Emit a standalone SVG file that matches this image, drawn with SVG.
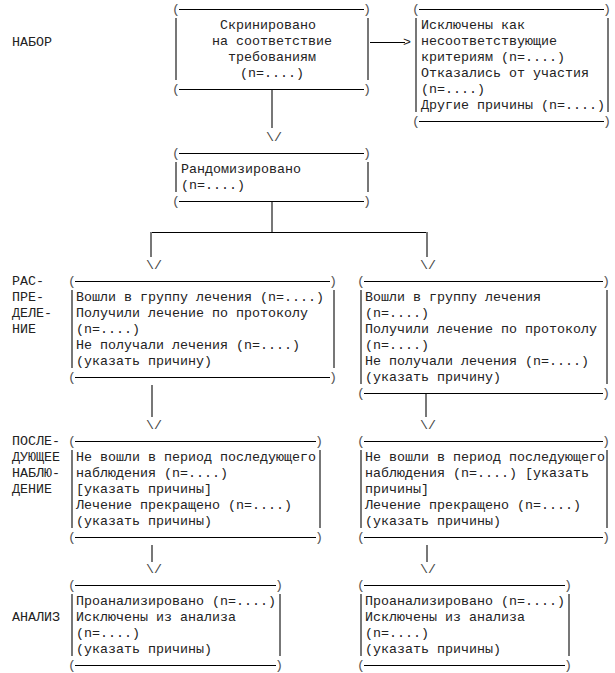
<svg xmlns="http://www.w3.org/2000/svg" width="615" height="673" viewBox="0 0 615 673">
<style>
text{font-family:"Liberation Mono","Courier New",monospace;font-size:13.33px;fill:#222}
.p{text-anchor:middle;fill:#555}
.c{text-anchor:middle;fill:#444}
.h{stroke:#000;stroke-width:1}
.v{stroke:#777;stroke-width:2}
</style>
<rect width="615" height="673" fill="#fff"/>
<g id="labels">
<text x="12" y="46">НАБОР</text>
<text x="12" y="285">РАС-</text>
<text x="12" y="301">ПРЕ-</text>
<text x="12" y="317">ДЕЛЕ-</text>
<text x="12" y="333">НИЕ</text>
<text x="12" y="445">ПОСЛЕ-</text>
<text x="12" y="461">ДУЮЩЕЕ</text>
<text x="12" y="477">НАБЛЮ-</text>
<text x="12" y="493">ДЕНИЕ</text>
<text x="12" y="621">АНАЛИЗ</text>
</g>
<g id="screened">
<text class="p" x="176" y="13">(</text><line class="h" x1="179" y1="9.5" x2="364" y2="9.5"/><text class="p" x="367" y="13">)</text>
<line class="v" x1="176" y1="18" x2="176" y2="80"/><line class="v" x1="368" y1="18" x2="368" y2="80"/>
<text class="p" x="176" y="93">(</text><line class="h" x1="179" y1="89.5" x2="364" y2="89.5"/><text class="p" x="367" y="93">)</text>
<text x="220" y="29">Скринировано</text>
<text x="212" y="45">на соответствие</text>
<text x="228" y="61">требованиям</text>
<text x="240" y="77">(n=....)</text>
</g>
<g id="excluded">
<text class="p" x="416" y="13">(</text><line class="h" x1="419" y1="9.5" x2="604" y2="9.5"/><text class="p" x="607" y="13">)</text>
<line class="v" x1="416" y1="18" x2="416" y2="112"/><line class="v" x1="608" y1="18" x2="608" y2="112"/>
<text class="p" x="416" y="125">(</text><line class="h" x1="419" y1="121.5" x2="604" y2="121.5"/><text class="p" x="607" y="125">)</text>
<text x="421" y="29">Исключены как</text>
<text x="421" y="45">несоответствующие</text>
<text x="421" y="61">критериям (n=....)</text>
<text x="421" y="77">Отказались от участия</text>
<text x="421" y="93">(n=....)</text>
<text x="421" y="109">Другие причины (n=....)</text>
</g>
<g id="randomized">
<text class="p" x="176" y="157">(</text><line class="h" x1="179" y1="153.5" x2="364" y2="153.5"/><text class="p" x="367" y="157">)</text>
<line class="v" x1="176" y1="162" x2="176" y2="192"/><line class="v" x1="368" y1="162" x2="368" y2="192"/>
<text class="p" x="176" y="205">(</text><line class="h" x1="179" y1="201.5" x2="364" y2="201.5"/><text class="p" x="367" y="205">)</text>
<text x="181" y="173">Рандомизировано</text>
<text x="181" y="189">(n=....)</text>
</g>
<g id="alloc-left">
<text class="p" x="72" y="285">(</text><line class="h" x1="75" y1="281.5" x2="330" y2="281.5"/><text class="p" x="333" y="285">)</text>
<line class="v" x1="72" y1="290" x2="72" y2="368"/><line class="v" x1="334" y1="290" x2="334" y2="368"/>
<text class="p" x="72" y="381">(</text><line class="h" x1="75" y1="377.5" x2="330" y2="377.5"/><text class="p" x="333" y="381">)</text>
<text x="76" y="301">Вошли в группу лечения (n=....)</text>
<text x="76" y="317">Получили лечение по протоколу</text>
<text x="76" y="333">(n=....)</text>
<text x="76" y="349">Не получали лечения (n=....)</text>
<text x="76" y="365">(указать причину)</text>
</g>
<g id="alloc-right">
<text class="p" x="361" y="285">(</text><line class="h" x1="364" y1="281.5" x2="603" y2="281.5"/><text class="p" x="606" y="285">)</text>
<line class="v" x1="361" y1="290" x2="361" y2="384"/><line class="v" x1="607" y1="290" x2="607" y2="384"/>
<text class="p" x="361" y="397">(</text><line class="h" x1="364" y1="393.5" x2="603" y2="393.5"/><text class="p" x="606" y="397">)</text>
<text x="365" y="301">Вошли в группу лечения</text>
<text x="365" y="317">(n=....)</text>
<text x="365" y="333">Получили лечение по протоколу</text>
<text x="365" y="349">(n=....)</text>
<text x="365" y="365">Не получали лечения (n=....)</text>
<text x="365" y="381">(указать причину)</text>
</g>
<g id="followup-left">
<text class="p" x="72" y="445">(</text><line class="h" x1="75" y1="441.5" x2="316" y2="441.5"/><text class="p" x="319" y="445">)</text>
<line class="v" x1="72" y1="450" x2="72" y2="528"/><line class="v" x1="320" y1="450" x2="320" y2="528"/>
<text class="p" x="72" y="541">(</text><line class="h" x1="75" y1="537.5" x2="316" y2="537.5"/><text class="p" x="319" y="541">)</text>
<text x="76" y="461">Не вошли в период последующего</text>
<text x="76" y="477">наблюдения (n=....)</text>
<text x="76" y="493">[указать причины]</text>
<text x="76" y="509">Лечение прекращено (n=....)</text>
<text x="76" y="525">(указать причины)</text>
</g>
<g id="followup-right">
<text class="p" x="361" y="445">(</text><line class="h" x1="364" y1="441.5" x2="603" y2="441.5"/><text class="p" x="606" y="445">)</text>
<line class="v" x1="361" y1="450" x2="361" y2="528"/><line class="v" x1="607" y1="450" x2="607" y2="528"/>
<text class="p" x="361" y="541">(</text><line class="h" x1="364" y1="537.5" x2="603" y2="537.5"/><text class="p" x="606" y="541">)</text>
<text x="365" y="461">Не вошли в период последующего</text>
<text x="365" y="477">наблюдения (n=....) [указать</text>
<text x="365" y="493">причины]</text>
<text x="365" y="509">Лечение прекращено (n=....)</text>
<text x="365" y="525">(указать причины)</text>
</g>
<g id="analysis-left">
<text class="p" x="72" y="589">(</text><line class="h" x1="75" y1="585.5" x2="276" y2="585.5"/><text class="p" x="279" y="589">)</text>
<line class="v" x1="72" y1="594" x2="72" y2="656"/><line class="v" x1="280" y1="594" x2="280" y2="656"/>
<text class="p" x="72" y="669">(</text><line class="h" x1="75" y1="665.5" x2="276" y2="665.5"/><text class="p" x="279" y="669">)</text>
<text x="76" y="605">Проанализировано (n=....)</text>
<text x="76" y="621">Исключены из анализа</text>
<text x="76" y="637">(n=....)</text>
<text x="76" y="653">(указать причины)</text>
</g>
<g id="analysis-right">
<text class="p" x="361" y="589">(</text><line class="h" x1="364" y1="585.5" x2="565" y2="585.5"/><text class="p" x="568" y="589">)</text>
<line class="v" x1="361" y1="594" x2="361" y2="656"/><line class="v" x1="569" y1="594" x2="569" y2="656"/>
<text class="p" x="361" y="669">(</text><line class="h" x1="364" y1="665.5" x2="565" y2="665.5"/><text class="p" x="568" y="669">)</text>
<text x="365" y="605">Проанализировано (n=....)</text>
<text x="365" y="621">Исключены из анализа</text>
<text x="365" y="637">(n=....)</text>
<text x="365" y="653">(указать причины)</text>
</g>
<g id="connectors">
<line class="h" x1="370" y1="42.5" x2="405" y2="42.5"/><text x="403" y="46">&gt;</text>
<line class="v" x1="272" y1="90" x2="272" y2="128"/><text class="c" x="274" y="141">\/</text>
<line class="v" x1="272" y1="202" x2="272" y2="232"/>
<line class="h" x1="151" y1="232.5" x2="427" y2="232.5"/>
<line class="v" x1="151" y1="232" x2="151" y2="257"/><text class="c" x="154" y="269">\/</text>
<line class="v" x1="427" y1="232" x2="427" y2="257"/><text class="c" x="428" y="269">\/</text>
<line class="v" x1="152" y1="385" x2="152" y2="417"/><text class="c" x="154" y="429">\/</text>
<line class="v" x1="426" y1="394" x2="426" y2="417"/><text class="c" x="428" y="429">\/</text>
<line class="v" x1="152" y1="545" x2="152" y2="562"/><text class="c" x="154" y="573">\/</text>
<line class="v" x1="427" y1="545" x2="427" y2="562"/><text class="c" x="428" y="573">\/</text>
</g>
</svg>
